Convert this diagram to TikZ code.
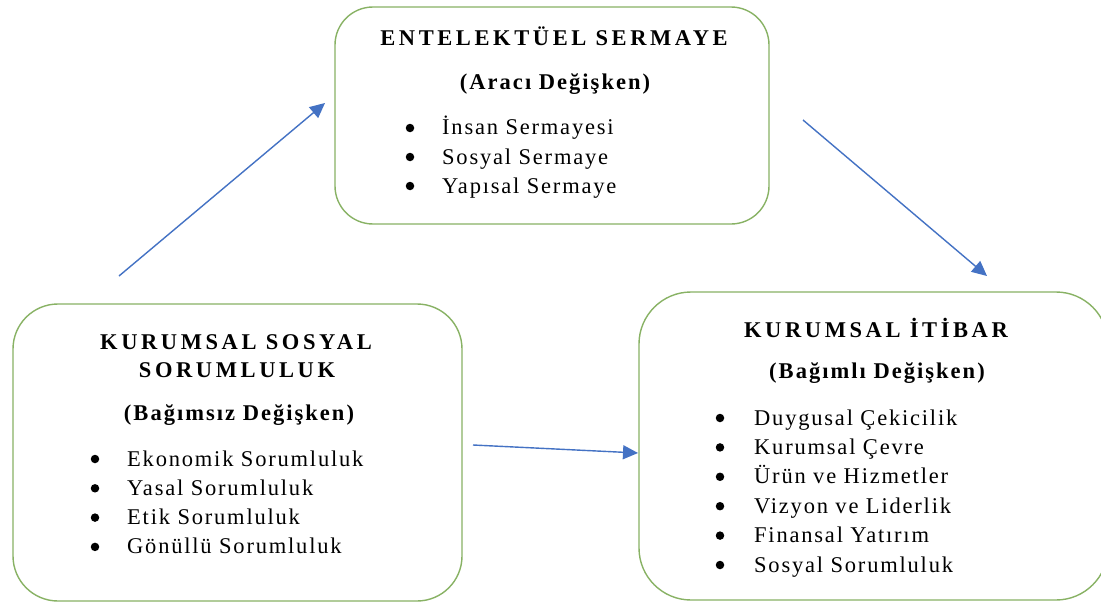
\documentclass[tikz,border=0pt]{standalone}
\usepackage{fontspec}
\setmainfont{Liberation Serif}
\newfontfamily\headfont[LetterSpace=16]{Liberation Serif}
\newfontfamily\subfont[LetterSpace=9]{Liberation Serif}
\newfontfamily\itemfont[LetterSpace=8]{Liberation Serif}
\usetikzlibrary{arrows.meta}
\definecolor{boxgreen}{RGB}{136,178,100}
\definecolor{arrowblue}{RGB}{68,114,196}
\begin{document}
\begin{tikzpicture}[x=1pt,y=-1pt,
  box/.style={draw=boxgreen, line width=1.4pt, fill=white, inner sep=0pt},
  head/.style={anchor=base, inner sep=0pt, font=\headfont\bfseries\fontsize{22.5}{26}\selectfont},
  sub/.style={anchor=base, inner sep=0pt, font=\subfont\bfseries\fontsize{22.5}{26}\selectfont},
  item/.style={anchor=base west, inner sep=0pt, font=\itemfont\fontsize{22.5}{26}\selectfont},
  dot/.style={circle, fill=black, inner sep=0pt, minimum size=8.5pt},
  link/.style={draw=arrowblue, line width=1.4pt, -{Triangle[length=15pt,width=14pt]}}]
\useasboundingbox[fill=white] (0,0) rectangle (1101,602);

% the three construct boxes
\node[box, rounded corners=38pt, minimum width=434pt, minimum height=217pt] (es) at (552,115.5) {};
\node[box, rounded corners=45pt, minimum width=449pt, minimum height=297pt] (kss) at (237.5,452.5) {};
\node[box, rounded corners=52pt, minimum width=469pt, minimum height=308pt] (ki) at (873.5,446) {};

% mediator
\node[head] (esT) at (554,46) {ENTELEKTÜEL SERMAYE};
\node[sub] (esS) at (555,89) {(Aracı Değişken)};
\foreach \t [count=\i] in {İnsan Sermayesi, Sosyal Sermaye, Yapısal Sermaye}{
  \node[dot] (esd\i) at (410,{135+29*(\i-1)-7}) {};
  \node[item] (esi\i) at (442,{135+29*(\i-1)}) {\t};
}

% independent variable
\node[head] (kssT1) at (236,349) {KURUMSAL SOSYAL};
\node[head] (kssT2) at (237,377) {SORUMLULUK};
\node[sub] (kssS) at (239,420) {(Bağımsız Değişken)};
\foreach \t [count=\i] in {Ekonomik Sorumluluk, Yasal Sorumluluk, Etik Sorumluluk, Gönüllü Sorumluluk}{
  \node[dot] (kssd\i) at (95,{466+29.3*(\i-1)-7}) {};
  \node[item] (kssi\i) at (127,{466+29.3*(\i-1)}) {\t};
}

% dependent variable
\node[head] (kiT) at (876,337) {KURUMSAL İTİBAR};
\node[sub] (kiS) at (877,378) {(Bağımlı Değişken)};
\foreach \t [count=\i] in {Duygusal Çekicilik, Kurumsal Çevre, Ürün ve Hizmetler, Vizyon ve Liderlik, Finansal Yatırım, Sosyal Sorumluluk}{
  \node[dot] (kid\i) at (720,{425+29.4*(\i-1)-7}) {};
  \node[item] (kii\i) at (754,{425+29.4*(\i-1)}) {\t};
}

% free-standing arrows between the boxes
\coordinate (a1s) at (119,276);
\coordinate (a1e) at (325,103);
\coordinate (a2s) at (803,120);
\coordinate (a2e) at (987,276);
\coordinate (a3s) at (473,445);
\coordinate (a3e) at (638,453);
\draw[link] (a1s) -- (a1e);
\draw[link] (a2s) -- (a2e);
\draw[link] (a3s) -- (a3e);
\end{tikzpicture}
\end{document}
